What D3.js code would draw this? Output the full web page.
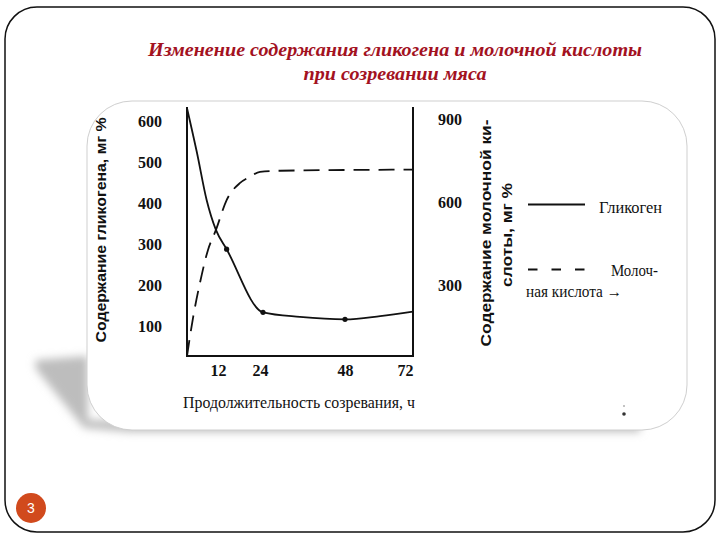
<!DOCTYPE html>
<html>
<head>
<meta charset="utf-8">
<script src="https://cdn.jsdelivr.net/npm/d3@7"></script>
<style>
  body { margin: 0; background: #fff; }
  svg { display: block; }
</style>
</head>
<body>
<div id="chart"></div>
<script>
// Data
var xTicks = [12, 24, 48, 72];
var leftTicks = [100, 200, 300, 400, 500, 600];
var rightTicks = [300, 600, 900];

var glycogenHours = [0, 3.8, 7.6, 11.2, 14.3, 24, 34.8, 48, 60.4, 72];
var glycogenValues = [633, 526, 409, 336, 289, 135, 124, 118, 126, 137];

var markerHours = [14.3, 24, 48];
var markerValues = [289, 135, 118];

var lacticHours = [0, 2.4, 5, 8.1, 11.2, 14.3, 17.9, 20.5, 23.2, 29, 72];
var lacticValues = [43, 185, 307, 426, 499, 607, 669, 691, 709, 713, 717];

var titleLines = ["Изменение содержания гликогена и молочной кислоты", "при созревании мяса"];

var svg = d3.select("#chart")
  .append("svg")
  .attr("width", 720)
  .attr("height", 540);

var defs = svg.append("defs");
defs.append("filter")
  .attr("id", "blur")
  .attr("x", "-50%").attr("y", "-50%").attr("width", "200%").attr("height", "200%")
  .append("feGaussianBlur")
  .attr("stdDeviation", 4);

// Slide frame
svg.append("rect")
  .attr("x", 5).attr("y", 7)
  .attr("width", 710).attr("height", 525)
  .attr("rx", 32)
  .attr("fill", "#fff")
  .attr("stroke", "#111")
  .attr("stroke-width", 1.5);

// Title
svg.selectAll(".title")
  .data(titleLines)
  .enter()
  .append("text")
  .attr("class", "title")
  .attr("x", 395)
  .attr("y", function(d, i) { return 56 + i * 24; })
  .attr("text-anchor", "middle")
  .attr("font-family", "Liberation Serif")
  .attr("font-style", "italic")
  .attr("font-weight", "bold")
  .attr("font-size", 19)
  .attr("fill", "#a3121f")
  .attr("textLength", function(d, i) { return i === 0 ? 494 : 183; })
  .attr("lengthAdjust", "spacingAndGlyphs")
  .text(function(d) { return d; });

// Card shadow + card
svg.append("path")
  .attr("d", "M88,356 L36,360 C34,364 36,370 40,374 L84,428 L130,432 L640,432 L640,420 L88,420 Z")
  .attr("fill", "#bdbdbd")
  .attr("filter", "url(#blur)");

svg.append("rect")
  .attr("x", 87).attr("y", 101)
  .attr("width", 600).attr("height", 329)
  .attr("rx", 45)
  .attr("fill", "#fff")
  .attr("stroke", "#cfcfcf")
  .attr("stroke-width", 1);

// Scales
var x = d3.scaleLinear()
  .domain([0, 12, 24, 48, 72])
  .range([187, 218, 263, 345, 413]);

var yL = d3.scaleLinear().domain([0, 600]).range([367.7, 121.7]);
var yR = d3.scaleLinear().domain([0, 900]).range([368, 119]);

var plotTop = 107, plotBottom = 356;

// Axes frame (left, bottom, right)
svg.append("path")
  .attr("d", "M" + x(0) + "," + plotTop + " V" + plotBottom + " H" + x(72) + " V" + plotTop)
  .attr("fill", "none")
  .attr("stroke", "#111")
  .attr("stroke-width", 2);

var tickFont = function(g) {
  g.select(".domain").remove();
  g.selectAll("text")
    .attr("font-family", "Liberation Serif")
    .attr("font-weight", "bold")
    .attr("font-size", 16)
    .attr("fill", "#111");
};

svg.append("g")
  .attr("transform", "translate(" + x(0) + ",0)")
  .call(d3.axisLeft(yL).tickValues(leftTicks).tickSize(0).tickPadding(25))
  .call(tickFont);

svg.append("g")
  .attr("transform", "translate(" + x(72) + ",0)")
  .call(d3.axisRight(yR).tickValues(rightTicks).tickSize(0).tickPadding(25))
  .call(tickFont);

var xAxisG = svg.append("g")
  .attr("transform", "translate(0," + plotBottom + ")")
  .call(d3.axisBottom(x).tickValues(xTicks).tickSize(0).tickPadding(9))
  .call(tickFont);
xAxisG.selectAll(".tick text")
  .attr("dx", function(d) { return d === 72 ? -8 : (d === 24 ? -3 : 0); });

// Lines
var glycogenLine = d3.line()
  .x(function(d) { return x(d[0]); })
  .y(function(d) { return yL(d[1]); })
  .curve(d3.curveMonotoneX);

var lacticLine = d3.line()
  .x(function(d) { return x(d[0]); })
  .y(function(d) { return yR(d[1]); })
  .curve(d3.curveMonotoneX);

svg.append("path")
  .datum(d3.zip(lacticHours, lacticValues))
  .attr("d", lacticLine)
  .attr("fill", "none")
  .attr("stroke", "#111")
  .attr("stroke-width", 1.8)
  .attr("stroke-dasharray", "16,9");

svg.append("path")
  .datum(d3.zip(glycogenHours, glycogenValues))
  .attr("d", glycogenLine)
  .attr("fill", "none")
  .attr("stroke", "#111")
  .attr("stroke-width", 1.8);

svg.selectAll(".marker")
  .data(d3.zip(markerHours, markerValues))
  .enter()
  .append("circle")
  .attr("class", "marker")
  .attr("cx", function(d) { return x(d[0]); })
  .attr("cy", function(d) { return yL(d[1]); })
  .attr("r", 2.6)
  .attr("fill", "#111");

// Axis titles
svg.append("text")
  .attr("transform", "translate(106,230) rotate(-90)")
  .attr("text-anchor", "middle")
  .attr("font-family", "Liberation Sans")
  .attr("font-weight", "bold")
  .attr("font-size", 15)
  .attr("fill", "#111")
  .attr("textLength", 225)
  .attr("lengthAdjust", "spacingAndGlyphs")
  .text("Содержание гликогена, мг %");

svg.append("text")
  .attr("transform", "translate(491,233) rotate(-90)")
  .attr("text-anchor", "middle")
  .attr("font-family", "Liberation Sans")
  .attr("font-weight", "bold")
  .attr("font-size", 15)
  .attr("fill", "#111")
  .attr("textLength", 227)
  .attr("lengthAdjust", "spacingAndGlyphs")
  .text("Содержание молочной ки-");

svg.append("text")
  .attr("transform", "translate(512,235) rotate(-90)")
  .attr("text-anchor", "middle")
  .attr("font-family", "Liberation Sans")
  .attr("font-weight", "bold")
  .attr("font-size", 15)
  .attr("fill", "#111")
  .attr("textLength", 104)
  .attr("lengthAdjust", "spacingAndGlyphs")
  .text("слоты, мг %");

svg.append("text")
  .attr("x", 299)
  .attr("y", 408)
  .attr("text-anchor", "middle")
  .attr("font-family", "Liberation Serif")
  .attr("font-size", 16)
  .attr("fill", "#111")
  .attr("textLength", 232)
  .attr("lengthAdjust", "spacingAndGlyphs")
  .text("Продолжительность созревания, ч");

// Legend
var legend = svg.append("g").attr("class", "legend");

legend.append("line")
  .attr("x1", 528).attr("x2", 585)
  .attr("y1", 204.5).attr("y2", 204.5)
  .attr("stroke", "#111")
  .attr("stroke-width", 1.8);

legend.append("text")
  .attr("x", 599).attr("y", 213)
  .attr("font-family", "Liberation Serif")
  .attr("font-size", 16)
  .attr("fill", "#111")
  .attr("textLength", 63)
  .attr("lengthAdjust", "spacingAndGlyphs")
  .text("Гликоген");

legend.append("line")
  .attr("x1", 528).attr("x2", 585)
  .attr("y1", 269.5).attr("y2", 269.5)
  .attr("stroke", "#111")
  .attr("stroke-width", 1.8)
  .attr("stroke-dasharray", "9.5,14");

legend.append("text")
  .attr("x", 611).attr("y", 276)
  .attr("font-family", "Liberation Serif")
  .attr("font-size", 16)
  .attr("fill", "#111")
  .attr("textLength", 47)
  .attr("lengthAdjust", "spacingAndGlyphs")
  .text("Молоч-");

legend.append("text")
  .attr("x", 526).attr("y", 297)
  .attr("font-family", "Liberation Serif")
  .attr("font-size", 16)
  .attr("fill", "#111")
  .attr("textLength", 96)
  .attr("lengthAdjust", "spacingAndGlyphs")
  .text("ная кислота →");

// Stray speck in the scan
svg.append("circle").attr("cx", 624).attr("cy", 414).attr("r", 1.8).attr("fill", "#333");
svg.append("circle").attr("cx", 624).attr("cy", 406).attr("r", 0.8).attr("fill", "#777");

// Slide number
svg.append("circle")
  .attr("cx", 31).attr("cy", 508)
  .attr("r", 15)
  .attr("fill", "#d14a1d");

svg.append("text")
  .attr("x", 31).attr("y", 513)
  .attr("text-anchor", "middle")
  .attr("font-family", "Liberation Sans")
  .attr("font-size", 14)
  .attr("fill", "#fff")
  .text("3");
</script>
</body>
</html>
